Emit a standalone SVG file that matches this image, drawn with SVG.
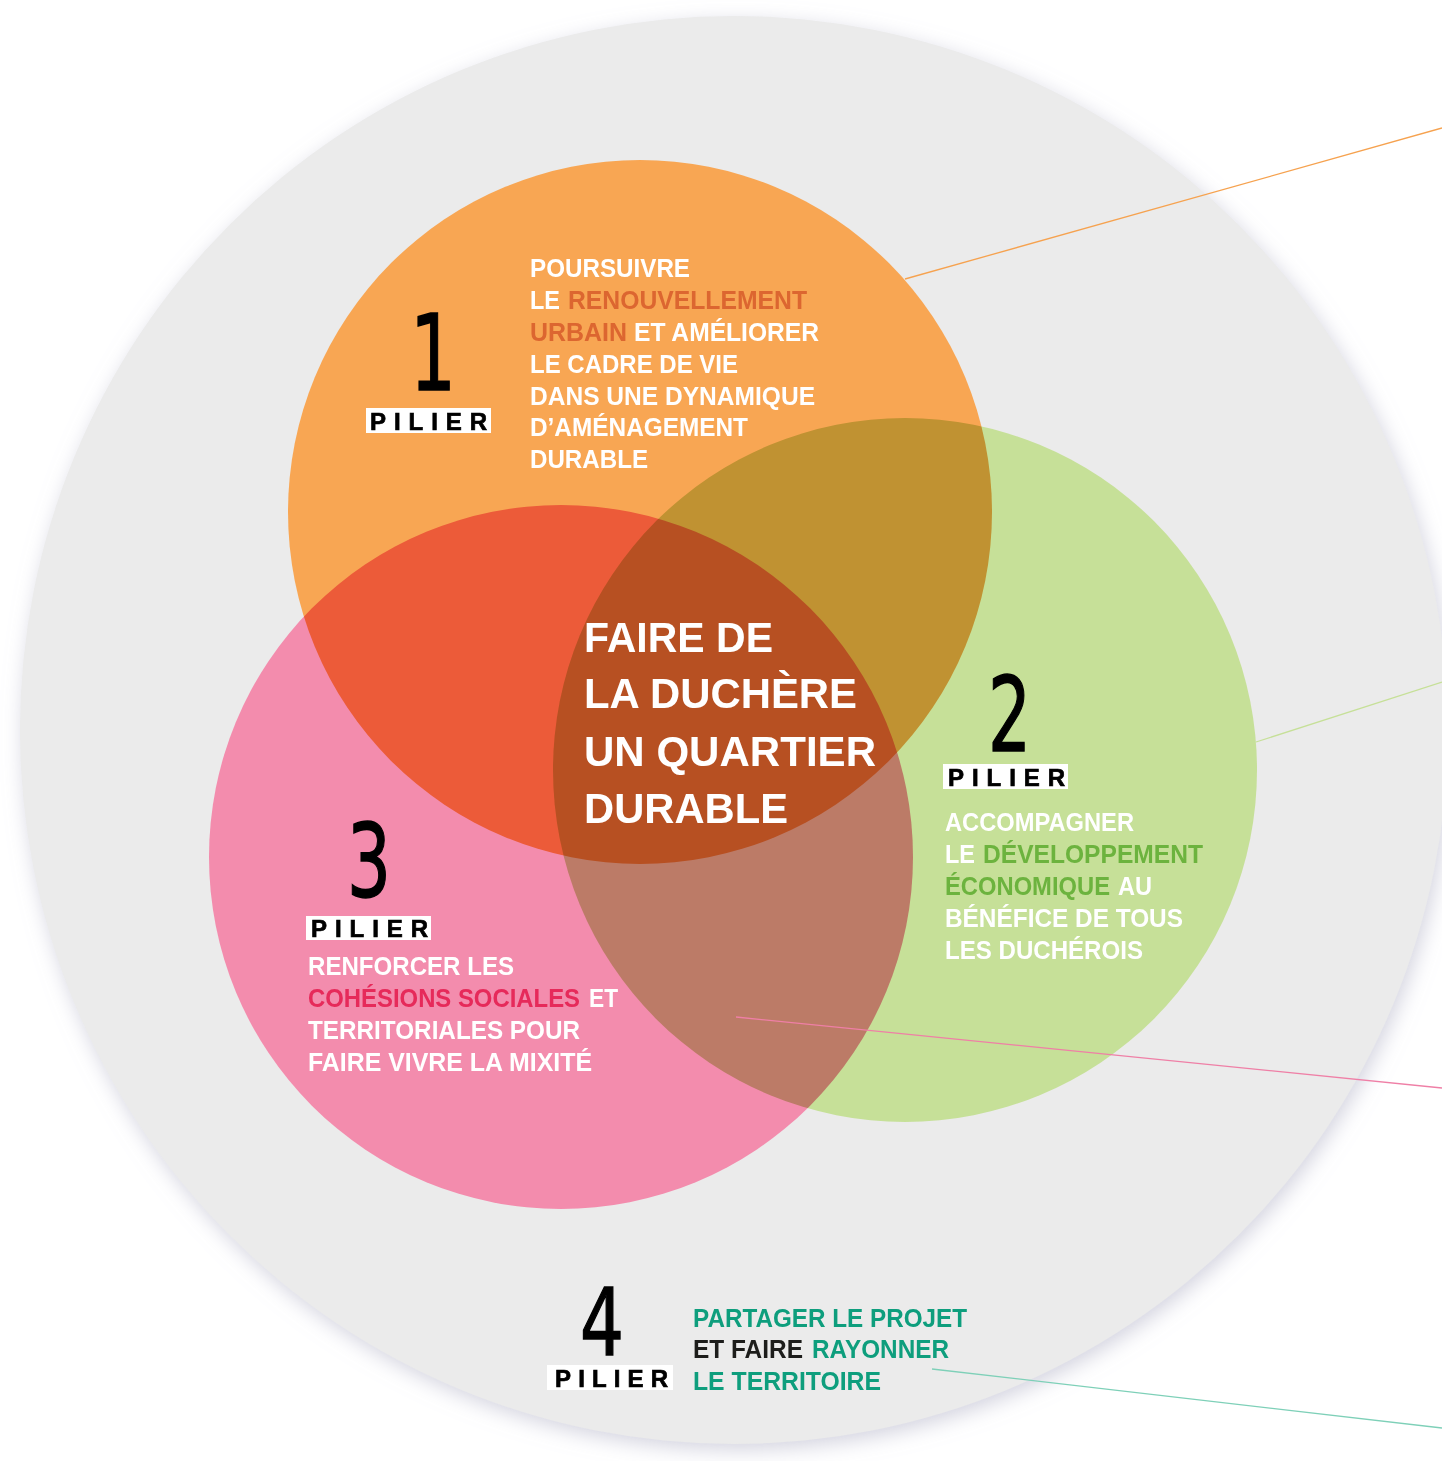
<svg xmlns="http://www.w3.org/2000/svg" width="1442" height="1461" viewBox="0 0 1442 1461">
<defs>
<filter id="sh" x="-10%" y="-10%" width="120%" height="120%">
<feDropShadow dx="3" dy="6" stdDeviation="10" flood-color="#c9c9d8" flood-opacity="0.8"/>
</filter>
</defs>
<style>
.t{font-family:"Liberation Sans",Arial,sans-serif;font-weight:bold;font-size:25px;fill:#fff}
.c{font-family:"Liberation Sans",Arial,sans-serif;font-weight:bold;font-size:42px;fill:#fff}
.num{font-family:"DejaVu Sans",sans-serif;font-weight:normal;fill:#000;stroke:#000;stroke-width:1.5}
.pl{font-family:"Liberation Sans",Arial,sans-serif;font-weight:bold;font-size:24px;fill:#000;stroke:#000;stroke-width:0.7}
.box{fill:#fff}
.or{fill:#DC6630}.gr{fill:#6CB33E}.pk{fill:#E62A5A}.tl{fill:#0E9E7D}.bk{fill:#1d1d1b}
.circ{mix-blend-mode:multiply}
.ln{fill:none;stroke-width:1.3}
</style>
<rect width="1442" height="1461" fill="#fff"/>
<g id="background">
<circle cx="734" cy="730" r="714" fill="#EBEBEB" filter="url(#sh)"/>
</g>
<g id="circles" style="isolation:isolate">
<circle class="circ" cx="640" cy="512" r="352" fill="#F8A653"/>
<circle class="circ" cx="905" cy="770" r="352" fill="#C6E098"/>
<circle class="circ" cx="561" cy="857" r="352" fill="#F38CAD"/>
</g>
<g id="connectors">
<line class="ln" x1="905" y1="279" x2="1442" y2="128" stroke="#F6A24F"/>
<line class="ln" x1="1256" y1="742" x2="1442" y2="682" stroke="#C6E098"/>
<line class="ln" x1="736" y1="1017" x2="1442" y2="1088" stroke="#EF7FA6"/>
<line class="ln" x1="932" y1="1369" x2="1442" y2="1428" stroke="#7ED0B8"/>
</g>
<g id="pillar1">
<text class="num" x="410" y="390" font-size="106" textLength="46" lengthAdjust="spacingAndGlyphs">1</text>
<rect class="box" x="366" y="408" width="125" height="25"/>
<text class="pl" x="370" y="430" textLength="117" lengthAdjust="spacing">PILIER</text>
<text class="t" x="530" y="277" textLength="160" lengthAdjust="spacingAndGlyphs">POURSUIVRE</text>
<text class="t" x="530" y="309" textLength="30" lengthAdjust="spacingAndGlyphs">LE</text>
<text class="t or" x="568" y="309" textLength="239" lengthAdjust="spacingAndGlyphs">RENOUVELLEMENT</text>
<text class="t or" x="530" y="341" textLength="97" lengthAdjust="spacingAndGlyphs">URBAIN</text>
<text class="t" x="634" y="341" textLength="185" lengthAdjust="spacingAndGlyphs">ET AMÉLIORER</text>
<text class="t" x="530" y="373" textLength="208" lengthAdjust="spacingAndGlyphs">LE CADRE DE VIE</text>
<text class="t" x="530" y="405" textLength="285" lengthAdjust="spacingAndGlyphs">DANS UNE DYNAMIQUE</text>
<text class="t" x="530" y="436" textLength="218" lengthAdjust="spacingAndGlyphs">D’AMÉNAGEMENT</text>
<text class="t" x="530" y="468" textLength="118" lengthAdjust="spacingAndGlyphs">DURABLE</text>
</g>
<g id="pillar2">
<text class="num" x="988" y="751" font-size="104" textLength="43" lengthAdjust="spacingAndGlyphs">2</text>
<rect class="box" x="943" y="764" width="125" height="25"/>
<text class="pl" x="948" y="786" textLength="117" lengthAdjust="spacing">PILIER</text>
<text class="t" x="945" y="831" textLength="189" lengthAdjust="spacingAndGlyphs">ACCOMPAGNER</text>
<text class="t" x="945" y="863" textLength="30" lengthAdjust="spacingAndGlyphs">LE</text>
<text class="t gr" x="983" y="863" textLength="220" lengthAdjust="spacingAndGlyphs">DÉVELOPPEMENT</text>
<text class="t gr" x="945" y="895" textLength="165" lengthAdjust="spacingAndGlyphs">ÉCONOMIQUE</text>
<text class="t" x="1118" y="895" textLength="34" lengthAdjust="spacingAndGlyphs">AU</text>
<text class="t" x="945" y="927" textLength="238" lengthAdjust="spacingAndGlyphs">BÉNÉFICE DE TOUS</text>
<text class="t" x="945" y="959" textLength="198" lengthAdjust="spacingAndGlyphs">LES DUCHÉROIS</text>
</g>
<g id="pillar3">
<text class="num" x="347" y="897" font-size="102" textLength="44" lengthAdjust="spacingAndGlyphs">3</text>
<rect class="box" x="306" y="916" width="125" height="24"/>
<text class="pl" x="311" y="937" textLength="117" lengthAdjust="spacing">PILIER</text>
<text class="t" x="308" y="975" textLength="206" lengthAdjust="spacingAndGlyphs">RENFORCER LES</text>
<text class="t pk" x="308" y="1007" textLength="272" lengthAdjust="spacingAndGlyphs">COHÉSIONS SOCIALES</text>
<text class="t" x="589" y="1007" textLength="29" lengthAdjust="spacingAndGlyphs">ET</text>
<text class="t" x="308" y="1039" textLength="272" lengthAdjust="spacingAndGlyphs">TERRITORIALES POUR</text>
<text class="t" x="308" y="1071" textLength="284" lengthAdjust="spacingAndGlyphs">FAIRE VIVRE LA MIXITÉ</text>
</g>
<g id="pillar4">
<text class="num" x="580" y="1355" font-size="93" textLength="44" lengthAdjust="spacingAndGlyphs">4</text>
<rect class="box" x="547" y="1365" width="126" height="25"/>
<text class="pl" x="555" y="1387" textLength="113" lengthAdjust="spacing">PILIER</text>
<text class="t tl" x="693" y="1327" textLength="274" lengthAdjust="spacingAndGlyphs">PARTAGER LE PROJET</text>
<text class="t bk" x="693" y="1358" textLength="110" lengthAdjust="spacingAndGlyphs">ET FAIRE</text>
<text class="t tl" x="812" y="1358" textLength="137" lengthAdjust="spacingAndGlyphs">RAYONNER</text>
<text class="t tl" x="693" y="1390" textLength="188" lengthAdjust="spacingAndGlyphs">LE TERRITOIRE</text>
</g>
<g id="center">
<text class="c" x="584" y="652" textLength="189" lengthAdjust="spacingAndGlyphs">FAIRE DE</text>
<text class="c" x="584" y="708" textLength="273" lengthAdjust="spacingAndGlyphs">LA DUCHÈRE</text>
<text class="c" x="584" y="766" textLength="292" lengthAdjust="spacingAndGlyphs">UN QUARTIER</text>
<text class="c" x="584" y="823" textLength="204" lengthAdjust="spacingAndGlyphs">DURABLE</text>
</g>
</svg>
